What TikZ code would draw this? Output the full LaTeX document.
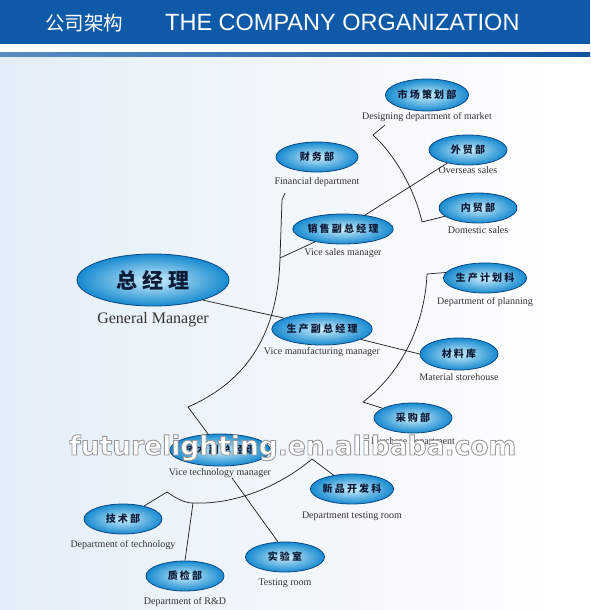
\documentclass[tikz,border=0pt]{standalone}
\usepackage{fontspec}
\setmainfont{Liberation Serif}
\newfontfamily\cjk[LetterSpace=22]{Noto Sans CJK SC}
\newfontfamily\cjktitle{Noto Sans CJK SC}
\newfontfamily\headfont{Liberation Sans}
\newfontfamily\wmfont{DejaVu Sans}
\usepackage{tikz}
\usetikzlibrary{shapes,calc}
\definecolor{headblue}{RGB}{14,90,168}
\definecolor{bgblue}{RGB}{228,238,248}
\definecolor{barlight}{RGB}{88,140,196}
\definecolor{bardark}{RGB}{16,84,160}
\definecolor{ringblue}{RGB}{14,72,130}
\definecolor{eggin}{RGB}{205,238,251}
\definecolor{eggout}{RGB}{22,138,208}
\definecolor{deptink}{RGB}{12,28,56}
\newcommand{\outlined}[1]{\special{pdf:literal direct 2 Tr 0.9 w 0.6 0.6 0.6 RG}#1\special{pdf:literal direct 0 Tr}}

\begin{document}
\begin{tikzpicture}[x=1pt,y=-1pt]
		\tikzstyle{every node}=[font=\fontsize{10}{12}\selectfont]
		\tikzstyle{dept}=[ellipse, draw=ringblue, line width=0.8pt, inner sep=0pt, minimum width=78pt, minimum height=30pt, inner color=eggin, outer color=eggout, text=deptink, font=\cjk\bfseries\fontsize{10}{12}\selectfont]
		\tikzstyle{boss}=[dept, minimum width=152pt, minimum height=52pt, font=\cjk\bfseries\fontsize{21}{24}\selectfont]
		\tikzstyle{caption}=[inner sep=0pt, text=black!80]
		\tikzstyle{link}=[line width=0.75pt, black!85]
		\tikzstyle{wmark}=[anchor=base west, inner sep=0pt, text=white, font=\wmfont\bfseries\fontsize{26.5}{30}\selectfont]
		
		\useasboundingbox (0,0) rectangle (590,610);
		\shade [left color=bgblue, right color=white] (0,0) rectangle (590,610);
		
		% header
		\fill [headblue] (0,0) rectangle (590,44);
		\fill [white] (0,44) rectangle (590,53);
		\shade [left color=barlight, right color=bardark] (0,53) rectangle (590,57);
		\node [anchor=base west, inner sep=0pt, text=white, font=\cjktitle\fontsize{19.5}{22}\selectfont] (titlezh) at (45,31) {公司架构};
		\node [anchor=base west, inner sep=0pt, text=white, font=\headfont\fontsize{23.5}{26}\selectfont] (titleen) at (165,31) {THE COMPANY ORGANIZATION};
		
		% departments
		\node [boss] (gm) at (153,280) {总经理};
		\node [caption, font=\fontsize{16}{18}\selectfont] (gml) at (153,320) {General Manager};
		
		\node [dept, minimum width=82pt] (fin) at (317,157) {财务部};
		\node [caption] (finl) at (317,182) {Financial department};
		\node [dept, minimum width=72pt, minimum height=32pt] (mkt) at (427,95) {市场策划部};
		\node [caption] (mktl) at (427,117) {Designing department of market};
		\node [dept] (ovs) at (468,150) {外贸部};
		\node [caption] (ovsl) at (468,170) {Overseas sales};
		\node [dept] (dom) at (478,208) {内贸部};
		\node [caption] (doml) at (478,230) {Domestic sales};
		\node [dept, minimum width=87pt] (vsal) at (343,229) {销售副总经理};
		\node [caption] (vsall) at (343,253) {Vice sales manager};
		
		\node [dept, minimum width=87pt, minimum height=32pt] (vmf) at (322,329) {生产副总经理};
		\node [caption] (vmfl) at (322,352) {Vice manufacturing manager};
		\node [dept] (plan) at (485,278) {生产计划科};
		\node [caption] (planl) at (485,302) {Department of planning};
		\node [dept, minimum height=32pt] (mat) at (459,354) {材料库};
		\node [caption] (matl) at (459,377) {Material storehouse};
		\node [dept] (pur) at (413,418) {采购部};
		\node [caption] (purl) at (413,442) {Purchase department};
		
		\node [dept, minimum width=85pt, minimum height=32pt] (vtech) at (220,450) {技术副总经理};
		\node [caption] (vtechl) at (220,473) {Vice technology manager};
		\node [dept] (ndev) at (352,489) {新品开发科};
		\node [caption] (ndevl) at (352,516) {Department testing room};
		\node [dept] (tdep) at (123,519) {技术部};
		\node [caption] (tdepl) at (123,545) {Department of technology};
		\node [dept] (rnd) at (185,576) {质检部};
		\node [caption] (rndl) at (185,602) {Department of R\&D};
		\node [dept, minimum width=79pt] (test) at (285,557) {实验室};
		\node [caption] (testl) at (285,583) {Testing room};
		
		% connectors
		\coordinate (f0) at (285,193);
		\coordinate (j1) at (280,258);
		\coordinate (k1) at (188,407);
		\draw [link] (f0) -- (282,200) -- (j1) .. controls (278,330) and (250,380) .. (k1) -- (vtech);
		\draw [link] (j1) -- (vsal);
		\draw [link] (vsal) -- (ovs);
		
		\coordinate (m0) at (385,125);
		\coordinate (m1) at (373,135);
		\coordinate (m2) at (422,222);
		\draw [link] (m0) -- (m1) .. controls (395,155) and (415,190) .. (m2) -- (dom);
		
		\draw [link] (gm.-22) -- (vmf.164);
		\draw [link] (vmf.-15) -- (mat.west);
		
		\coordinate (p1) at (427,274);
		\coordinate (p2) at (363,402);
		\draw [link] (plan.172) -- (p1) .. controls (425,320) and (405,370) .. (p2) -- (pur);
		
		\coordinate (k2) at (167,492);
		\coordinate (j2) at (193,503);
		\coordinate (k3) at (312,459);
		\draw [link] (tdep) -- (k2) .. controls (177,499) and (185,503) .. (j2) .. controls (240,505) and (285,482) .. (k3) -- (ndev);
		\draw [link] (j2) -- (rnd.north);
		\coordinate (t1) at (232,478);
		\draw [link] (t1) -- (test.115);
		
		% watermark
		\node [wmark] (wm) at (69,455) {\outlined{futurelighting.en.alibaba.com}};
		
\end{tikzpicture}
\end{document}
